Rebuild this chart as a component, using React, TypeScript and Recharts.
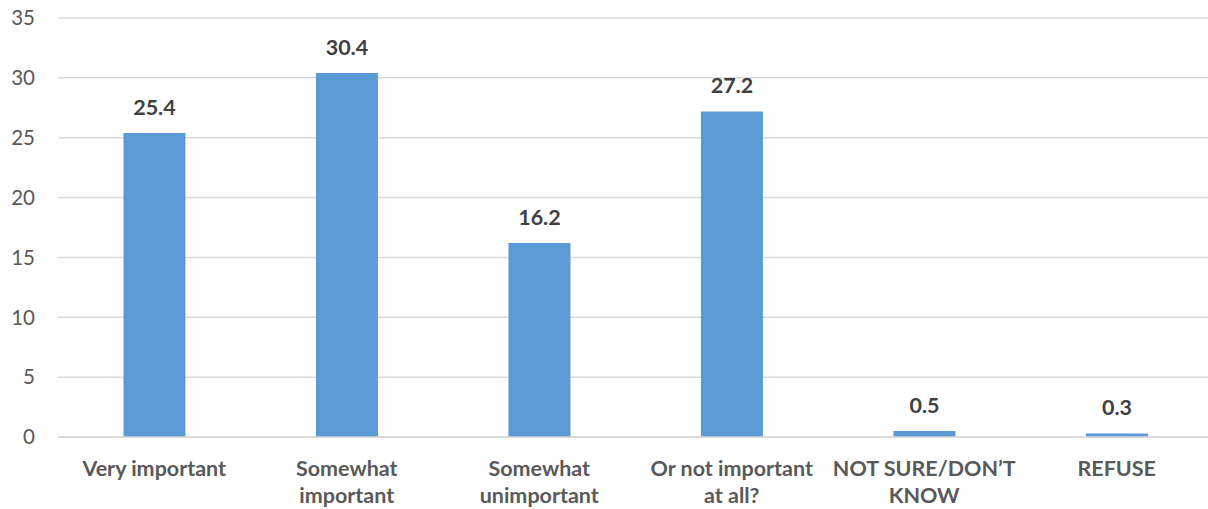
import { BarChart, Bar, XAxis, YAxis, CartesianGrid, LabelList } from "recharts";

const categorias = [
  "Very important",
  "Somewhat\nimportant",
  "Somewhat\nunimportant",
  "Or not important\nat all?",
  "NOT SURE/DON\u2019T\nKNOW",
  "REFUSE",
];
const valores = [25.4, 30.4, 16.2, 27.2, 0.5, 0.3];
const ticksY = [0, 5, 10, 15, 20, 25, 30, 35];

const AZUL = "#5b9bd5";
const GRADE = "#d9d9d9";
const FONTE = "Lato, 'Open Sans', sans-serif";

const dados = categorias.map((c, i) => ({ categoria: c, valor: valores[i] }));

function TickCategoria(props: any) {
  const { x, y, payload } = props;
  const linhas = String(payload.value).split("\n");
  return (
    <text
      x={x}
      y={y}
      textAnchor="middle"
      fill="#595959"
      fontFamily={FONTE}
      fontWeight={700}
      fontSize={21.5}
    >
      {linhas.map((l, i) => (
        <tspan key={i} x={x} dy={i === 0 ? 39 : 27}>
          {l}
        </tspan>
      ))}
    </text>
  );
}

export default function App() {
  return (
    <div
      style={{
        position: "absolute",
        left: 0,
        top: 0,
        width: 1208,
        height: 509,
        overflow: "hidden",
        background: "#fff",
      }}
    >
      <BarChart
        width={1213}
        height={509}
        data={dados}
        margin={{ top: 18, right: 0, bottom: 0, left: 0 }}
        barCategoryGap="34%"
      >
        <CartesianGrid vertical={false} stroke={GRADE} strokeWidth={1.5} />
        <XAxis
          dataKey="categoria"
          interval={0}
          height={72}
          tickLine={false}
          tickSize={0}
          tickMargin={0}
          axisLine={{ stroke: GRADE, strokeWidth: 1.5 }}
          tick={<TickCategoria />}
        />
        <YAxis
          width={58}
          domain={[0, 35]}
          ticks={ticksY}
          axisLine={false}
          tickLine={false}
          tickSize={0}
          tickMargin={23}
          tick={{ fill: "#595959", fontSize: 20.5, fontFamily: FONTE }}
        />
        <Bar dataKey="valor" fill={AZUL} isAnimationActive={false}>
          <LabelList
            dataKey="valor"
            position="top"
            offset={18}
            style={{ fontSize: 21.5, fontWeight: 700, fill: "#404040", fontFamily: FONTE }}
          />
        </Bar>
      </BarChart>
    </div>
  );
}
